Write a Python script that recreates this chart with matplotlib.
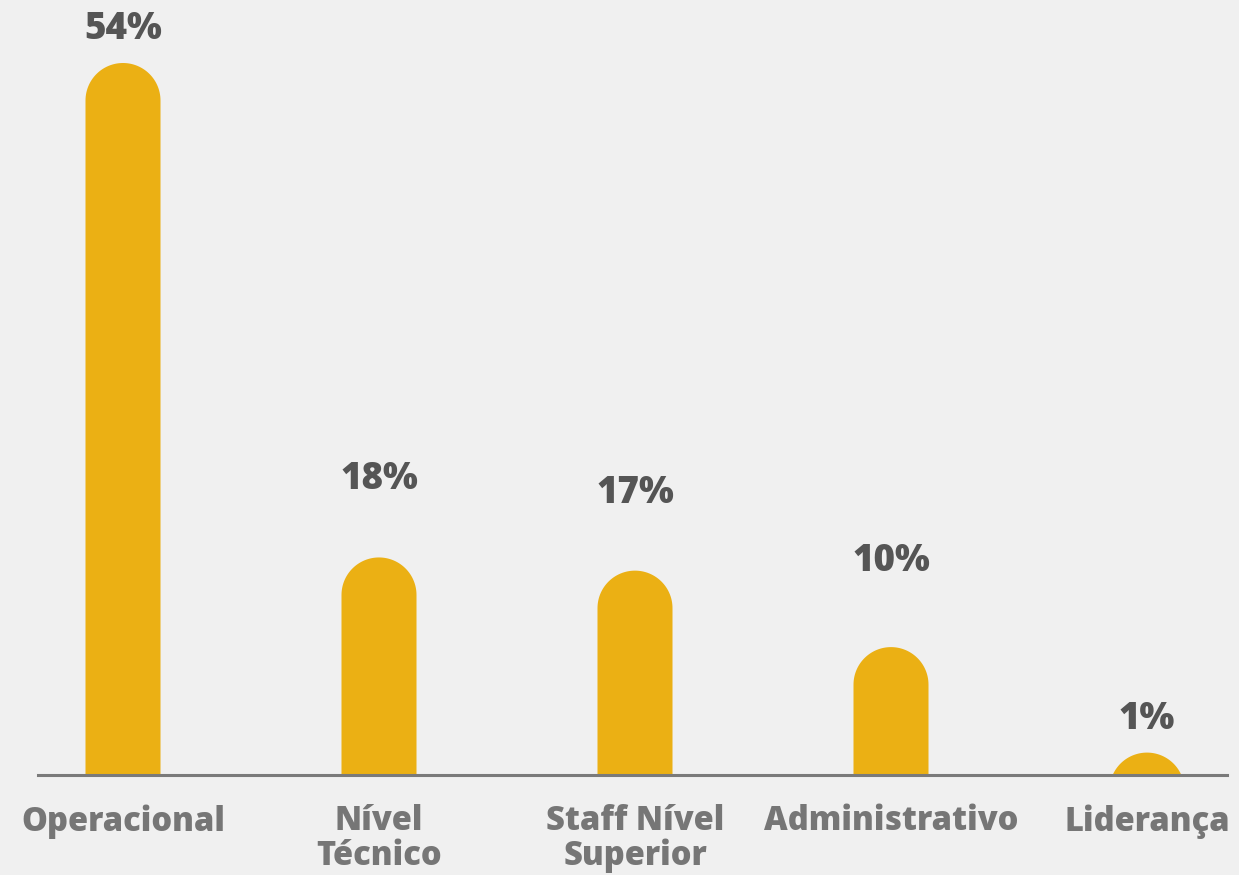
import numpy as np
import matplotlib.pyplot as plt
from matplotlib.patches import Polygon

# dados
categorias = ["Operacional", "Nível\nTécnico", "Staff Nível\nSuperior", "Administrativo", "Liderança"]
valores = [54, 16.5, 15.5, 9.7, 1.7]
rotulos = ["54%", "18%", "17%", "10%", "1%"]

cor_barra = "#EBB014"
cor_fundo = "#F0F0F0"
fonte = "Open Sans"

fig = plt.figure(figsize=(12.39, 8.75), dpi=100, facecolor=cor_fundo)
ax = fig.add_axes([38/1239, 1 - 775/875, 1189/1239, 775/875])
ax.set_facecolor(cor_fundo)

ymax = 54 * 775 / 712
ax.set_ylim(0, ymax)
ax.set_xlim((38 - 123) / 256, (1227 - 123) / 256)
ax.axis("off")

largura = 75 / 256
ry = 37.5 * ymax / 775          # raio do topo arredondado em unidades de y
offsets_px = [33, 78, 77, 86, 33]  # distancia do rotulo ao topo da barra
t = np.linspace(0, np.pi, 60)

for i, v in enumerate(valores):
    cy = v - ry
    arco_x = i + largura/2 * np.cos(t)
    arco_y = cy + ry * np.sin(t)
    base = min(cy, 0) - ry
    xs = np.concatenate([[i + largura/2], arco_x, [i - largura/2]])
    ys = np.concatenate([[base], arco_y, [base]])
    ax.add_patch(Polygon(np.column_stack([xs, ys]), closed=True,
                         facecolor=cor_barra, edgecolor="none", zorder=2))
    ax.annotate(rotulos[i], (i, v), xytext=(0, offsets_px[i] * 0.72),
                textcoords="offset points", ha="center", va="center",
                fontsize=26.5, fontweight="heavy", color="#555555",
                family=fonte)

# linha de base
ax.axhline(0, color="#7A7A7A", lw=2.2, zorder=3, clip_on=False)

for i, c in enumerate(categorias):
    ax.annotate(c, (i, 0), xytext=(0, -21), textcoords="offset points",
                ha="center", va="top", fontsize=23.5, fontweight="heavy",
                color="#767676", family=fonte, linespacing=1.03,
                annotation_clip=False)

fig.savefig("out.png", dpi=100, facecolor=cor_fundo)
